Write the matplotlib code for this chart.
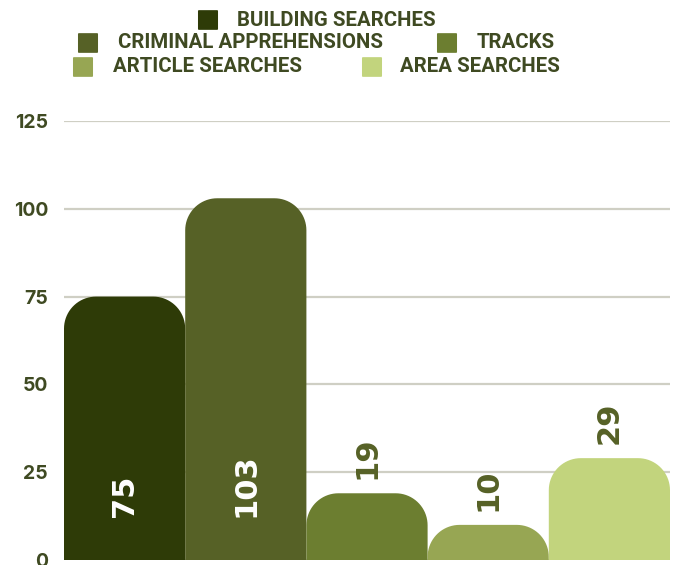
import matplotlib
matplotlib.use("Agg")
import matplotlib.pyplot as plt
from matplotlib.patches import Polygon, FancyBboxPatch
import numpy as np

# data
categories = ["BUILDING SEARCHES", "CRIMINAL APPREHENSIONS", "TRACKS",
              "ARTICLE SEARCHES", "AREA SEARCHES"]
values = [75, 103, 19, 10, 29]
colors = ["#2e3b07", "#566126", "#6c7e30", "#97a653", "#c2d47d"]
yticks = [0, 25, 50, 75, 100, 125]

text_dark = "#3f4a22"
W, H = 676, 565

fig = plt.figure(figsize=(W / 100, H / 100), dpi=100)
# axes box in pixels: x 64..670, y(0)=560, y(125)=121
ax = fig.add_axes([64 / W, (H - 560) / H, (670 - 64) / W, (560 - 121) / H])
ax.set_xlim(-0.5, 4.5)
ax.set_ylim(0, 125)
for s in ax.spines.values():
    s.set_visible(False)
ax.set_xticks([])
ax.set_yticks(yticks)
ax.set_yticklabels([str(t) for t in yticks], fontfamily="Inter",
                   fontweight="bold", fontsize=14, color=text_dark)
ax.tick_params(axis="y", length=0, pad=11.5)
for t in yticks:
    ax.axhline(t, color="#cfcfc4", lw=1.6, zorder=0)

# rounded-top bars
px_per_x = (670 - 64) / 5.0
px_per_y = (560 - 121) / 125.0
r_px = 32
bars = ax.bar(range(len(values)), values, width=1.0, color=colors)
for b, c in zip(bars, colors):
    b.set_visible(False)
    x0 = b.get_x()
    x1 = x0 + b.get_width()
    h = b.get_height()
    rx = r_px / px_per_x
    ry = min(r_px / px_per_y, h)
    th = np.linspace(0, np.pi / 2, 20)
    pts = [(x0, 0), (x0, h - ry)]
    pts += [(x0 + rx - rx * np.cos(a), h - ry + ry * np.sin(a)) for a in th]
    pts += [(x1 - rx + rx * np.sin(a), h - ry + ry * np.cos(a)) for a in th]
    pts += [(x1, 0)]
    ax.add_patch(Polygon(pts, closed=True, facecolor=c, edgecolor="none", zorder=2))

    if h >= 50:
        ax.annotate(str(int(h)), (b.get_x() + 0.5, 0), xytext=(0, 43),
                    textcoords="offset pixels", rotation=90, ha="center",
                    va="bottom", color="white", fontsize=22,
                    fontweight="bold", zorder=3)
    else:
        ax.annotate(str(int(h)), (b.get_x() + 0.5, h), xytext=(0, 14),
                    textcoords="offset pixels", rotation=90, ha="center",
                    va="bottom", color="#566126", fontsize=22,
                    fontweight="bold", zorder=3)

# legend, laid out by hand (square left, text left, row centre) in pixels
legend_pos = [(198, 237, 20), (78, 118, 43), (437, 477, 43),
              (73, 113, 67), (362, 400, 67)]
for name, c, (sx, tx, cy) in zip(categories, colors, legend_pos):
    sq = FancyBboxPatch(((sx + 1) / W, (H - cy - 9) / H), 18 / W, 18 / H,
                        boxstyle="round,pad=0.0015", transform=fig.transFigure,
                        facecolor=c, edgecolor="none")
    fig.patches.append(sq)
    fig.text(tx / W, (H - cy) / H, name, fontfamily="Roboto", fontweight="bold",
             fontsize=14.7, color=text_dark, ha="left", va="center")

fig.savefig("out.png", dpi=100)
